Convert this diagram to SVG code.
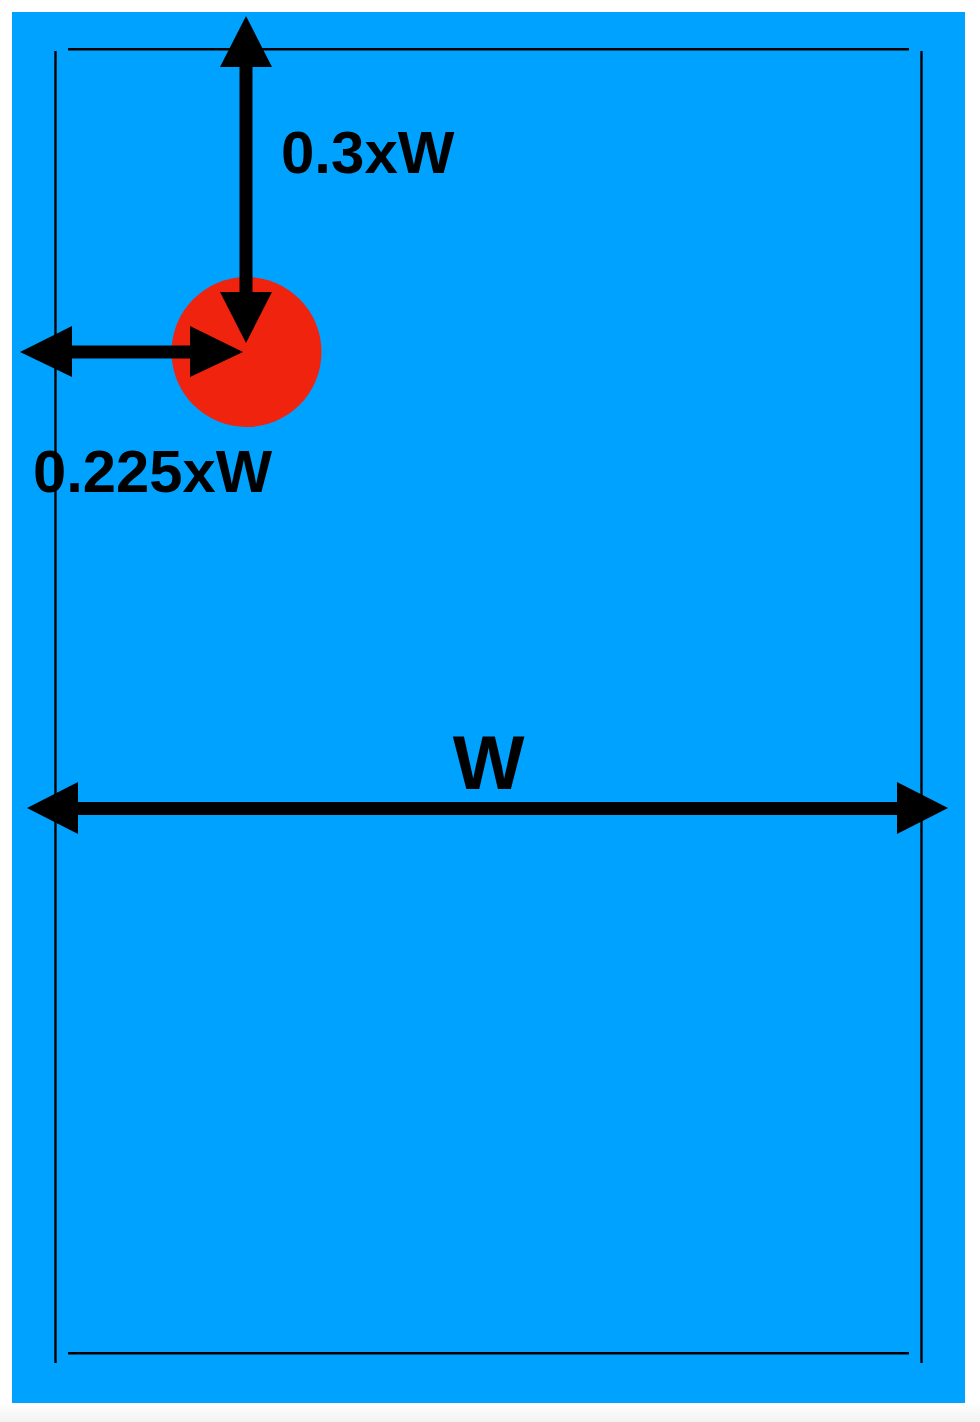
<svg xmlns="http://www.w3.org/2000/svg" width="980" height="1422" viewBox="0 0 980 1422">
<defs>
<linearGradient id="bg" x1="0" y1="0" x2="0" y2="1"><stop offset="0" stop-color="#ffffff"/><stop offset="1" stop-color="#f2f2f2"/></linearGradient>
<style>
.frame{stroke:#000;stroke-width:2.4;fill:none}
.shaft{stroke:#000;stroke-width:13;fill:none}
.head{fill:#000}
.lbl{font-family:"Liberation Sans",Arial,sans-serif;font-weight:bold;fill:#000}
</style>
</defs>
<rect x="0" y="0" width="980" height="1422" fill="#ffffff"/>
<rect x="0" y="1403" width="980" height="19" fill="url(#bg)"/>
<g id="field">
<rect x="12" y="12" width="953" height="1391" fill="#00a2ff"/>
<line class="frame" x1="68" y1="49.3" x2="909" y2="49.3"/>
<line class="frame" x1="68" y1="1353.3" x2="909" y2="1353.3"/>
<line class="frame" x1="55.5" y1="51" x2="55.5" y2="1363"/>
<line class="frame" x1="921.5" y1="51" x2="921.5" y2="1363"/>
</g>
<g id="spot">
<circle cx="246.5" cy="352" r="75" fill="#f0230f"/>
</g>
<g id="connectors">
<line class="shaft" x1="246" y1="60" x2="246" y2="300"/>
<polygon class="head" points="246,16 220,67 272,67"/>
<polygon class="head" points="246,343 220,292 272,292"/>
<line class="shaft" x1="65" y1="352" x2="200" y2="352"/>
<polygon class="head" points="20,352 72,326 72,377"/>
<polygon class="head" points="243,352 190,326 190,377"/>
<line class="shaft" x1="70" y1="808.5" x2="905" y2="808.5"/>
<polygon class="head" points="27,808 78,782 78,834"/>
<polygon class="head" points="948,808 897,782 897,834"/>
</g>
<g id="labels">
<text class="lbl" x="281" y="173" font-size="60">0.3xW</text>
<text class="lbl" x="33" y="492" font-size="60" textLength="239" lengthAdjust="spacingAndGlyphs">0.225xW</text>
<text class="lbl" x="488.5" y="789" font-size="76" text-anchor="middle">W</text>
</g>
</svg>
